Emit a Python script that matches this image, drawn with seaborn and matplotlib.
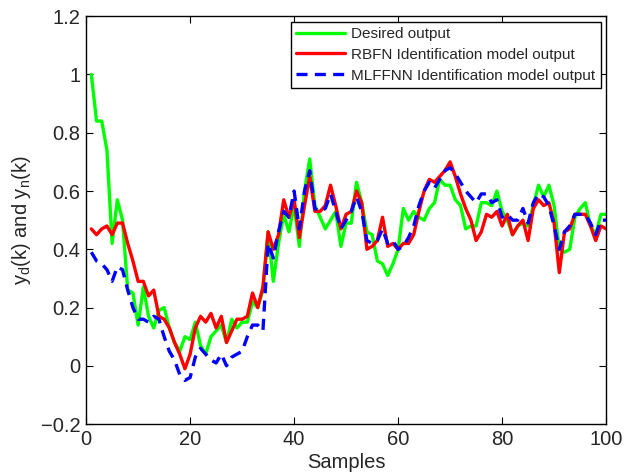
import numpy as np
import pandas as pd
import matplotlib
matplotlib.use("Agg")
import matplotlib.pyplot as plt
from matplotlib.ticker import FuncFormatter
import seaborn as sns

# 샘플 번호 1 ~ 100
samples = list(range(1, 101))

desired = [1.00, 0.84, 0.84, 0.74, 0.42, 0.57, 0.50, 0.26, 0.25, 0.14,
           0.27, 0.17, 0.13, 0.19, 0.20, 0.13, 0.08, 0.05, 0.10, 0.09,
           0.15, 0.07, 0.04, 0.10, 0.12, 0.14, 0.08, 0.16, 0.13, 0.15,
           0.15, 0.22, 0.20, 0.26, 0.46, 0.29, 0.42, 0.52, 0.46, 0.55,
           0.41, 0.60, 0.71, 0.55, 0.51, 0.47, 0.50, 0.53, 0.41, 0.49,
           0.49, 0.63, 0.56, 0.46, 0.45, 0.36, 0.35, 0.31, 0.35, 0.40,
           0.54, 0.50, 0.53, 0.51, 0.50, 0.54, 0.56, 0.64, 0.62, 0.62,
           0.57, 0.55, 0.47, 0.48, 0.48, 0.56, 0.56, 0.55, 0.60, 0.53,
           0.50, 0.45, 0.48, 0.49, 0.48, 0.55, 0.62, 0.58, 0.62, 0.55,
           0.40, 0.39, 0.40, 0.51, 0.54, 0.56, 0.48, 0.45, 0.52, 0.52]

rbfn = [0.47, 0.45, 0.47, 0.48, 0.45, 0.49, 0.49, 0.42, 0.36, 0.29,
        0.29, 0.24, 0.26, 0.17, 0.16, 0.13, 0.08, 0.04, -0.01, 0.04,
        0.13, 0.17, 0.15, 0.18, 0.13, 0.17, 0.08, 0.12, 0.16, 0.16,
        0.17, 0.25, 0.20, 0.27, 0.46, 0.40, 0.45, 0.57, 0.51, 0.57,
        0.44, 0.55, 0.65, 0.53, 0.53, 0.55, 0.62, 0.55, 0.47, 0.52,
        0.53, 0.60, 0.56, 0.40, 0.41, 0.43, 0.51, 0.41, 0.42, 0.40,
        0.42, 0.42, 0.45, 0.53, 0.60, 0.64, 0.63, 0.65, 0.67, 0.70,
        0.65, 0.59, 0.54, 0.50, 0.43, 0.46, 0.52, 0.51, 0.53, 0.48,
        0.52, 0.45, 0.48, 0.50, 0.43, 0.54, 0.57, 0.55, 0.56, 0.49,
        0.32, 0.46, 0.47, 0.52, 0.52, 0.52, 0.48, 0.43, 0.48, 0.47]

mlffnn = [0.39, 0.36, 0.35, 0.33, 0.29, 0.34, 0.33, 0.26, 0.20, 0.16,
          0.16, 0.15, 0.17, 0.16, 0.10, 0.05, 0.02, -0.03, -0.05, -0.04,
          0.03, 0.06, 0.04, 0.02, 0.01, 0.04, 0.00, 0.03, 0.04, 0.05,
          0.10, 0.14, 0.14, 0.12, 0.42, 0.37, 0.46, 0.53, 0.51, 0.60,
          0.47, 0.60, 0.67, 0.54, 0.53, 0.54, 0.59, 0.53, 0.47, 0.50,
          0.53, 0.58, 0.53, 0.43, 0.42, 0.43, 0.47, 0.42, 0.43, 0.40,
          0.41, 0.44, 0.48, 0.55, 0.60, 0.63, 0.61, 0.64, 0.67, 0.68,
          0.66, 0.63, 0.60, 0.58, 0.56, 0.59, 0.59, 0.56, 0.57, 0.51,
          0.52, 0.50, 0.50, 0.54, 0.49, 0.56, 0.59, 0.58, 0.55, 0.48,
          0.40, 0.46, 0.48, 0.52, 0.52, 0.52, 0.49, 0.45, 0.50, 0.50]

labels = ['Desired output', 'RBFN Identification model output',
          'MLFFNN Identification model output']

sns.set_style("white")
plt.rcParams['font.family'] = ['Liberation Sans', 'DejaVu Sans']
plt.rcParams['mathtext.fontset'] = 'custom'
plt.rcParams['mathtext.rm'] = 'Liberation Sans'

df = pd.DataFrame({'Samples': samples, 'desired': desired, 'rbfn': rbfn, 'mlffnn': mlffnn})

fig = plt.figure(figsize=(6.38, 4.76), dpi=100)
ax = fig.add_axes([0.135, 0.109, 0.815, 0.857])

sns.lineplot(data=df, x='Samples', y='desired', ax=ax, color=(0, 1, 0), lw=2.4, label=labels[0])
sns.lineplot(data=df, x='Samples', y='rbfn', ax=ax, color=(1, 0, 0), lw=2.4, label=labels[1])
sns.lineplot(data=df, x='Samples', y='mlffnn', ax=ax, color=(0, 0, 1), lw=2.4, ls=(0, (3.3, 2.2)), label=labels[2])

ax.set_xlim(0, 100)
ax.set_ylim(-0.2, 1.2)
ax.set_xticks([0, 20, 40, 60, 80, 100])
ax.set_yticks([-0.2, 0, 0.2, 0.4, 0.6, 0.8, 1.0, 1.2])
ax.yaxis.set_major_formatter(FuncFormatter(lambda v, p: ('%g' % round(v, 1)).replace('-', '\u2212')))

ax.tick_params(direction='in', left=True, bottom=True, top=True, right=True,
               length=5, width=0.8, labelsize=14.5, pad=4, color='black')
for s in ax.spines.values():
    s.set_color('black')
    s.set_linewidth(1.0)

ax.set_xlabel('Samples', fontsize=14.5, labelpad=3)
ax.set_ylabel(r'y$_\mathregular{d}$(k) and y$_\mathregular{n}$(k)', fontsize=14.5, labelpad=6)

leg = ax.legend(loc='upper right', fontsize=11, frameon=True, fancybox=False,
                edgecolor='black', framealpha=1, borderaxespad=0.35,
                handlelength=3.2, borderpad=0.35, labelspacing=0.45, handletextpad=0.4)
leg.get_frame().set_linewidth(1.0)

fig.savefig('out.png', dpi=100)
